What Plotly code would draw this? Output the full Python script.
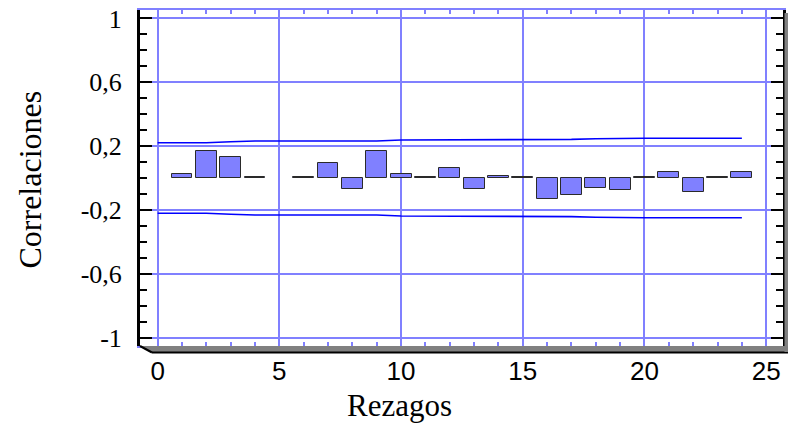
import plotly.graph_objects as go

# Autocorrelation estimates by lag
lags = list(range(1, 25))
acf = [0.023, 0.167, 0.132, 0.008, None, 0.008, 0.092, -0.070, 0.167, 0.022,
       0.008, 0.061, -0.066, 0.015, 0.008, -0.129, -0.104, -0.064, -0.077, 0.008,
       0.038, -0.087, 0.008, 0.038]

# 95% probability limits
limit_lags = list(range(0, 25))
upper = [0.221, 0.221, 0.221, 0.227, 0.232, 0.232, 0.232, 0.232, 0.232, 0.232,
         0.238, 0.238, 0.238, 0.238, 0.238, 0.238, 0.238, 0.242, 0.246, 0.249,
         0.249, 0.249, 0.249, 0.249, 0.249]
lower = [-0.221, -0.221, -0.221, -0.227, -0.232, -0.232, -0.232, -0.232, -0.232, -0.232,
         -0.238, -0.238, -0.238, -0.238, -0.238, -0.238, -0.238, -0.242, -0.246, -0.249,
         -0.249, -0.249, -0.249, -0.249, -0.249]

y_ticks = [-1, -0.6, -0.2, 0.2, 0.6, 1]
y_ticktext = ["-1", "-0,6", "-0,2", "0,2", "0,6", "1"]
x_ticks = [0, 5, 10, 15, 20, 25]

GRID = "#8080ff"
W, H = 791, 430
L, R, T, B = 140, 5, 10, 84
plot_w = W - L - R
plot_h = H - T - B


def px(xp):
    return (xp - L) / plot_w


def py(yp):
    return (H - B - yp) / plot_h


fig = go.Figure()
fig.add_trace(go.Bar(
    x=lags, y=acf, width=0.86,
    marker=dict(color="#8080ff", line=dict(color="#2a2a2a", width=1)),
))
fig.add_trace(go.Scatter(x=limit_lags, y=upper, mode="lines",
                         line=dict(color="#0000ff", width=1.6)))
fig.add_trace(go.Scatter(x=limit_lags, y=lower, mode="lines",
                         line=dict(color="#0000ff", width=1.6)))

# 3D-style floor and side shadow of the frame
bottom = H - B
shapes = [
    dict(type="path", xref="paper", yref="paper",
         path=f"M {px(L)} {py(bottom)} L {px(W)} {py(bottom)} L {px(W)} {py(bottom + 6.5)} "
              f"L {px(L + 12)} {py(bottom + 6.5)} Z",
         fillcolor="#808080", line=dict(width=0), layer="above"),
    dict(type="line", xref="paper", yref="paper",
         x0=px(L), y0=py(bottom), x1=px(L + 12), y1=py(bottom + 6.5),
         line=dict(color="black", width=2)),
    dict(type="line", xref="paper", yref="paper",
         x0=px(L + 12), y0=py(bottom + 6.5), x1=px(W), y1=py(bottom + 6.5),
         line=dict(color="black", width=2)),
    dict(type="rect", xref="paper", yref="paper",
         x0=px(W - R + 1.5), x1=px(W), y0=py(bottom + 6), y1=py(T + 3),
         fillcolor="#808080", line=dict(width=0)),
]

fig.update_layout(
    width=W, height=H,
    margin=dict(l=L, r=R, t=T, b=B, pad=0),
    paper_bgcolor="white", plot_bgcolor="white",
    showlegend=False, bargap=0,
    shapes=shapes,
    xaxis=dict(
        range=[-0.724, 25.69], tickvals=x_ticks,
        showgrid=True, gridcolor=GRID, gridwidth=1.5, zeroline=False,
        ticks="inside", ticklen=7, tickwidth=1.5, tickcolor=GRID,
        showline=True, linecolor=GRID, linewidth=2, mirror="ticks",
        minor=dict(dtick=1, tick0=0, ticks="inside", ticklen=4, tickwidth=1.5,
                   tickcolor=GRID, showgrid=False),
        tickfont=dict(family="Liberation Sans", size=26, color="black"),
        ticklabelstandoff=1,
    ),
    yaxis=dict(
        range=[-1.053, 1.053], tickvals=y_ticks, ticktext=y_ticktext,
        showgrid=True, gridcolor=GRID, gridwidth=1.5, zeroline=False,
        ticks="inside", ticklen=12, tickwidth=2, tickcolor="black",
        showline=True, linecolor="black", linewidth=3, mirror="ticks",
        minor=dict(dtick=0.1, tick0=0, ticks="inside", ticklen=7, tickwidth=2,
                   tickcolor="black", showgrid=False),
        tickfont=dict(family="Liberation Serif", size=26, color="black"),
        ticklabelstandoff=10,
    ),
    annotations=[
        dict(text="Correlaciones", xref="paper", yref="paper",
             x=px(29), y=py(180), textangle=-90, showarrow=False,
             xanchor="center", yanchor="middle",
             font=dict(family="Liberation Serif", size=32, color="black")),
        dict(text="Rezagos", xref="paper", yref="paper",
             x=px(401), y=py(405), showarrow=False,
             xanchor="center", yanchor="middle",
             font=dict(family="Liberation Serif", size=31, color="black")),
    ],
)

fig.write_html("out.html")
